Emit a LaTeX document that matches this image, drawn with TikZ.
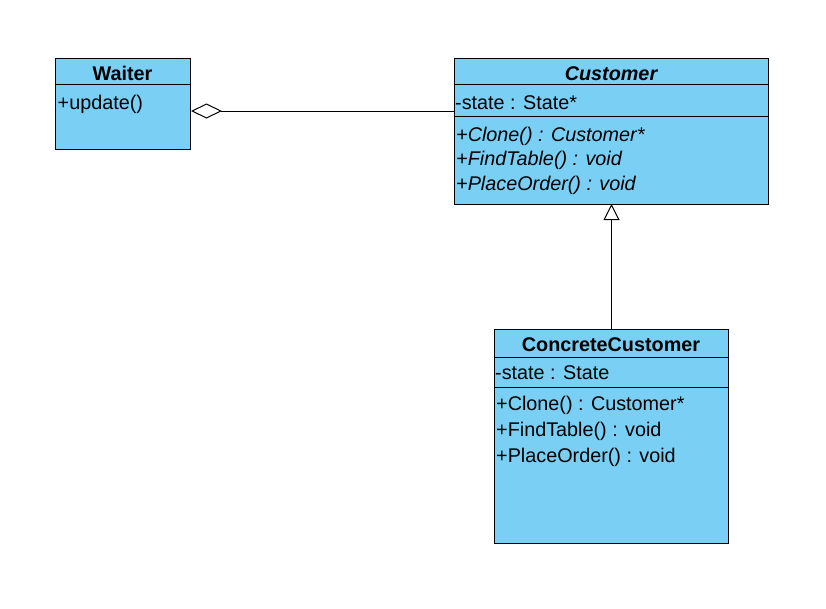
\documentclass[tikz,border=0pt]{standalone}
\usepackage{fontspec}
\setmainfont{Liberation Sans}
\usetikzlibrary{arrows.meta}
\definecolor{classfill}{RGB}{122,207,245}
\tikzset{
  classbox/.style={draw=black, fill=classfill, line width=1pt, rectangle,
    inner sep=0pt, anchor=north west},
  divider/.style={line width=1pt},
  member/.style={anchor=base west, inner sep=0pt, font=\fontsize{19.8}{22}\selectfont},
  classtitle/.style={anchor=base, inner sep=0pt, font=\fontsize{19.8}{22}\selectfont\bfseries},
  conn/.style={line width=1pt, draw=black},
}
\begin{document}
\begin{tikzpicture}[x=1pt,y=-1pt]
\useasboundingbox (0,0) rectangle (826,608);

% Waiter
\node[classbox, minimum width=135pt, minimum height=91pt] (waiter) at (55,58) {};
\draw[divider] ([yshift=-26pt]waiter.north west) -- ([yshift=-26pt]waiter.north east);
\node[classtitle] (waitername) at (122.5,80) {Waiter};
\node[member] (waiterupdate) at (57.5,109) {+update()};

% Customer (abstract)
\node[classbox, minimum width=314pt, minimum height=146pt] (customer) at (454,58) {};
\draw[divider] ([yshift=-26pt]customer.north west) -- ([yshift=-26pt]customer.north east);
\draw[divider] ([yshift=-58pt]customer.north west) -- ([yshift=-58pt]customer.north east);
\node[classtitle] (customername) at (611,80) {\itshape Customer};
\node[member] (customerstate) at (455,109) {-state : State*};
\node[member] (customerclone) at (456,141) {\itshape +Clone() : Customer*};
\node[member] (customerfind) at (456,165.5) {\itshape +FindTable() : void};
\node[member] (customerorder) at (456,190) {\itshape +PlaceOrder() : void};

% ConcreteCustomer
\node[classbox, minimum width=234pt, minimum height=214pt] (concrete) at (494,329) {};
\draw[divider] ([yshift=-28pt]concrete.north west) -- ([yshift=-28pt]concrete.north east);
\draw[divider] ([yshift=-58pt]concrete.north west) -- ([yshift=-58pt]concrete.north east);
\node[classtitle] (concretename) at (611,351) {ConcreteCustomer};
\node[member] (concretestate) at (495,379.5) {-state : State};
\node[member] (concreteclone) at (496,410.5) {+Clone() : Customer*};
\node[member] (concretefind) at (496,436.5) {+FindTable() : void};
\node[member] (concreteorder) at (496,462.5) {+PlaceOrder() : void};

% Aggregation: Waiter holds a Customer
\coordinate (aggy) at (0,111);
\draw[conn, {Diamond[open,length=31pt,width=15pt]}-]
  (waiter.east |- aggy) -- (customer.west |- aggy);

% Generalization: ConcreteCustomer derives from Customer
\draw[conn, -{Triangle[open,length=16pt,width=16pt]}, shorten >=-1pt]
  (concrete.north) -- (customer.south);
\end{tikzpicture}
\end{document}
